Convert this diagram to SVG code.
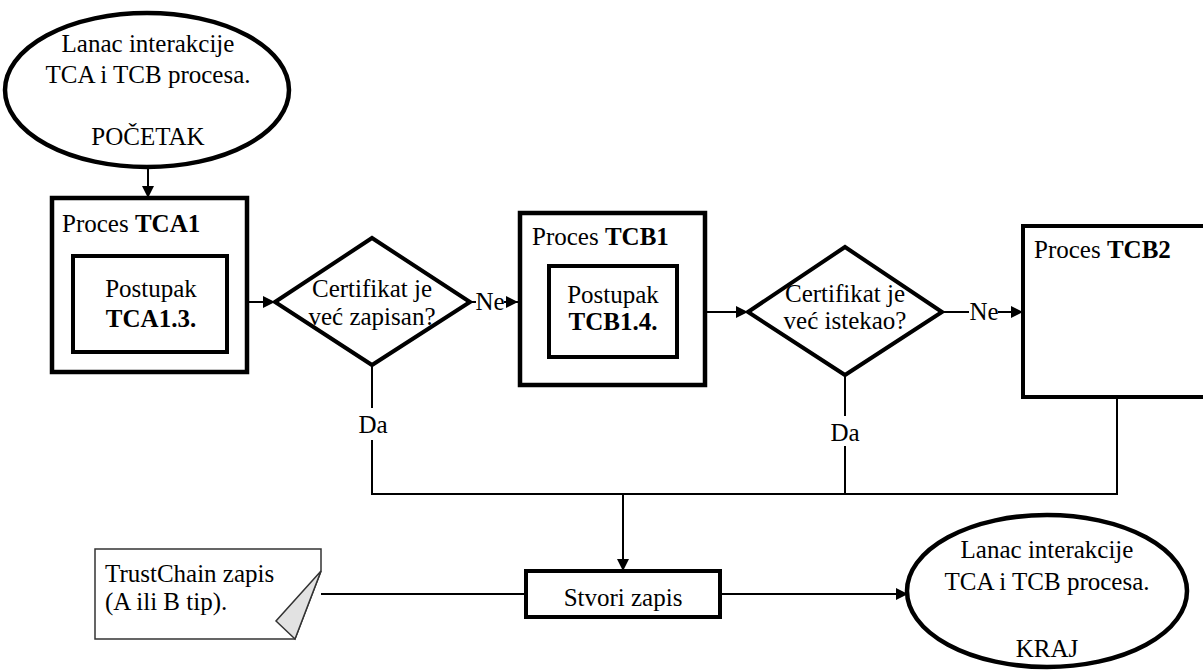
<svg xmlns="http://www.w3.org/2000/svg" width="1203" height="670" viewBox="0 0 1203 670" font-family="'Liberation Serif', Tinos, 'Times New Roman', serif">
<defs>
<style>
text{font-family:'Liberation Serif',Tinos,'Times New Roman',serif;font-size:25px;fill:#000}
.c{text-anchor:middle}
.b{font-weight:bold}
.shape{fill:#fff;stroke:#000;stroke-width:4.5}
.inner{fill:#fff;stroke:#000;stroke-width:4}
.conn{fill:none;stroke:#000;stroke-width:2}
</style>
<marker id="arr" viewBox="0 0 12 12" refX="12" refY="6" markerWidth="12" markerHeight="12" markerUnits="userSpaceOnUse" orient="auto">
<path d="M0,0 L12,6 L0,12 Z" fill="#000"/>
</marker>
</defs>
<rect width="1203" height="670" fill="#fff"/>

<g id="connectors">
<line class="conn" x1="148" y1="167" x2="148" y2="198" marker-end="url(#arr)"/>
<line class="conn" x1="227" y1="302" x2="275" y2="302" marker-end="url(#arr)"/>
<line class="conn" x1="470" y1="302" x2="476" y2="302"/>
<line class="conn" x1="504" y1="302" x2="518" y2="302" marker-end="url(#arr)"/>
<line class="conn" x1="677" y1="312" x2="748" y2="312" marker-end="url(#arr)"/>
<line class="conn" x1="942" y1="312" x2="969" y2="312"/>
<line class="conn" x1="998" y1="312" x2="1023" y2="312" marker-end="url(#arr)"/>
<polyline class="conn" points="372,365 372,408"/>
<polyline class="conn" points="372,440 372,494 1117,494 1117,397"/>
<polyline class="conn" points="845,375 845,416"/>
<polyline class="conn" points="845,446 845,494"/>
<line class="conn" x1="623" y1="494" x2="623" y2="571" marker-end="url(#arr)"/>
<line class="conn" x1="321" y1="594" x2="526" y2="594"/>
<line class="conn" x1="720" y1="594" x2="908" y2="594" marker-end="url(#arr)"/>
<text x="490" y="310" class="c">Ne</text>
<text x="984" y="320" class="c">Ne</text>
<text x="373" y="433" class="c">Da</text>
<text x="845" y="441" class="c">Da</text>
</g>

<g id="start">
<ellipse class="shape" cx="147" cy="90" rx="142" ry="77"/>
<text x="148" y="52" class="c">Lanac interakcije</text>
<text x="148" y="83" class="c">TCA i TCB procesa.</text>
<text x="148" y="145" class="c">POČETAK</text>
</g>

<g id="tca1">
<rect class="shape" x="52" y="198" width="195" height="174"/>
<text x="62" y="232">Proces <tspan class="b">TCA1</tspan></text>
</g>
<g id="tca13">
<rect class="inner" x="73" y="256" width="154" height="96"/>
<text x="151" y="297" class="c">Postupak</text>
<text x="151" y="327" class="c b">TCA1.3.</text>
</g>

<g id="dec1">
<polygon class="inner" points="275,302 372,238 470,302 372,365"/>
<text x="372" y="297" class="c">Certifikat je</text>
<text x="372" y="325" class="c">već zapisan?</text>
</g>

<g id="tcb1">
<rect class="shape" x="520" y="213" width="185" height="172"/>
<text x="532" y="245">Proces <tspan class="b">TCB1</tspan></text>
</g>
<g id="tcb14">
<rect class="inner" x="549" y="266" width="128" height="91"/>
<text x="613" y="303" class="c">Postupak</text>
<text x="613" y="330" class="c b">TCB1.4.</text>
</g>

<g id="dec2">
<polygon class="inner" points="748,312 845,247 942,312 845,375"/>
<text x="845" y="302" class="c">Certifikat je</text>
<text x="845" y="329" class="c">već istekao?</text>
</g>

<g id="tcb2">
<rect class="inner" x="1023" y="226" width="200" height="171"/>
<text x="1034" y="258">Proces <tspan class="b">TCB2</tspan></text>
</g>

<g id="note">
<path d="M95,549 H321 V571 L295,639 H95 Z" fill="#fff" stroke="#333" stroke-width="1.5"/>
<polygon points="321,571 276,621 295,639" fill="#e2e2e2" stroke="#333" stroke-width="1.5"/>
<text x="105" y="582">TrustChain zapis</text>
<text x="105" y="610">(A ili B tip).</text>
</g>

<g id="create">
<rect class="inner" x="526" y="571" width="194" height="46"/>
<text x="623" y="606" class="c">Stvori zapis</text>
</g>

<g id="end">
<ellipse class="shape" cx="1047" cy="591" rx="140" ry="76"/>
<text x="1047" y="558" class="c">Lanac interakcije</text>
<text x="1047" y="590" class="c">TCA i TCB procesa.</text>
<text x="1047" y="657" class="c">KRAJ</text>
</g>
</svg>
